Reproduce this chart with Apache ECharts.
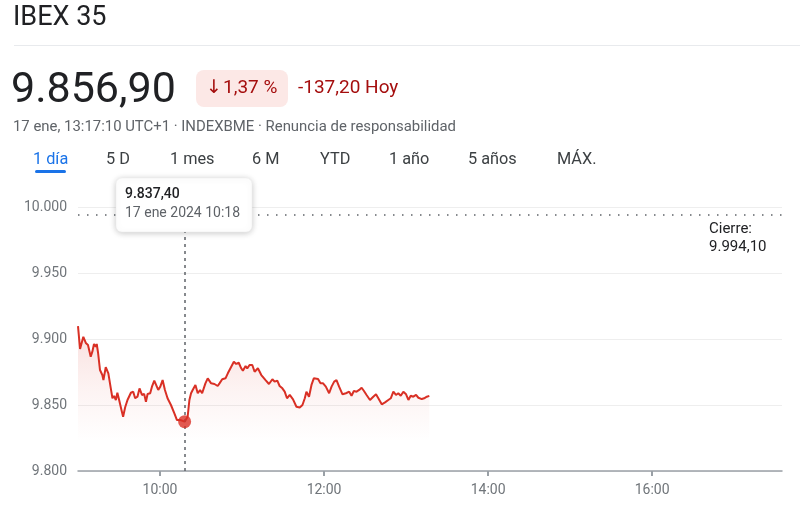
<!DOCTYPE html>
<html>
<head>
<meta charset="utf-8">
<script src="https://cdn.jsdelivr.net/npm/echarts@6/dist/echarts.min.js"></script>
<style>
  html, body { margin: 0; padding: 0; background: #ffffff; }
  #chart { width: 800px; height: 514px; }
</style>
</head>
<body>
<div id="chart"></div>
<script>
// ---- Data ----
const openMinute = 540;            // 9:00 in minutes since midnight
const closeMinute = 1055;          // 17:35
const xTickMinutes = [600, 720, 840, 960];   // 10:00, 12:00, 14:00, 16:00
const yTicks = [9800, 9850, 9900, 9950, 10000];

// minutes after 9:00
const minutesAfterOpen = [
  0, 1.5, 3.9, 5.7, 7.3, 9.3, 10.5, 11.7, 13.0, 13.7, 14.7, 16.1, 17.8, 18.6, 20.3, 22.2,
  24.0, 25.2, 26.4, 27.7, 28.8, 30.1, 31.8, 33.0, 34.5, 36.2, 38.7, 40.4, 41.8, 43.5, 45.0,
  46.8, 48.4, 49.7, 50.9, 52.8, 54.1, 55.8, 57.0, 58.7, 60.2, 61.9, 63.6, 65.5, 68.0, 70.5,
  72.4, 74.9, 78.0, 80.2, 81.5, 82.7, 83.9, 85.9, 87.6, 89.3, 90.8, 93.2, 94.9, 97.4, 99.8,
  102.2, 103.5, 105.5, 107.9, 109.6, 112.1, 114.0, 115.7, 117.6, 119.4, 120.6, 122.6, 123.8,
  125.5, 127.5, 129.2, 131.6, 134.1, 137.2, 139.7, 142.2, 143.8, 145.8, 147.5, 149.5, 151.2,
  152.9, 154.9, 157.3, 159.8, 162.2, 164.2, 165.9, 167.1, 169.0, 170.8, 172.5, 173.9, 175.6,
  177.4, 179.3, 181.3, 183.7, 185.5, 187.4, 189.1, 191.0, 193.5, 196.0, 198.4, 200.1, 201.8,
  203.8, 205.7, 207.5, 209.2, 211.1, 213.6, 216.0, 218.0, 219.7, 222.2, 224.6, 227.0, 228.8,
  230.7, 232.6, 234.3, 236.1, 238.0, 240.0, 241.7, 243.4, 245.3, 247.3, 249.0, 251.5, 253.2,
  255.2, 257.0
];
const prices = [
  9909.8, 9892.4, 9901.7, 9897.0, 9895.5, 9886.6, 9890.4, 9896.2, 9894.2, 9896.2, 9889.4, 9876.5, 9872.7, 9868.9, 9878.6, 9874.0,
  9862.6, 9855.1, 9856.8, 9853.8, 9859.3, 9853.8, 9846.2, 9841.1, 9848.3, 9853.8, 9859.3, 9860.1, 9855.1, 9856.3, 9862.6,
  9857.6, 9858.3, 9852.5, 9858.3, 9858.9, 9863.9, 9868.4, 9868.9, 9861.4, 9863.9, 9868.9, 9861.4, 9855.1, 9850.0, 9843.7,
  9838.6, 9838.6, 9837.4, 9841.1, 9853.8, 9858.9, 9861.4, 9865.2, 9858.9, 9861.4, 9858.9, 9866.4, 9870.2, 9866.4, 9865.9,
  9864.4, 9866.4, 9869.5, 9870.2, 9874.0, 9879.0, 9882.8, 9881.1, 9882.0, 9877.8, 9876.0, 9879.5, 9877.8,
  9880.3, 9880.3, 9875.2, 9877.8, 9872.7, 9868.9, 9865.9, 9869.5, 9867.7, 9868.4, 9864.4, 9862.6, 9860.1,
  9855.1, 9857.6, 9854.3, 9848.7, 9848.1, 9850.0, 9855.1, 9860.1, 9856.3, 9865.2, 9870.2, 9868.9, 9869.7,
  9866.4, 9866.4, 9863.9, 9858.9, 9863.9, 9867.7, 9868.9, 9863.9, 9858.1, 9858.9, 9860.1, 9857.0, 9860.6,
  9860.1, 9861.4, 9863.1, 9860.6, 9857.6, 9853.8, 9856.3, 9858.1, 9855.1, 9850.5, 9852.0, 9853.8, 9855.1,
  9860.1, 9857.6, 9858.9, 9857.0, 9860.1, 9858.1, 9853.8, 9857.0, 9856.3, 9857.6, 9855.5, 9854.5, 9855.1,
  9856.3, 9856.9
];
const previousClose = 9994.1;
const hoverMinute = 618;           // 10:18
const hoverPrice = 9837.4;

// ---- Texts ----
const titleText = 'IBEX 35';
const priceText = '9.856,90';
const arrowText = '↓';
const pctText = '1,37 %';
const changeText = '-137,20 Hoy';
const subtitleText = '17 ene, 13:17:10 UTC+1 · INDEXBME · Renuncia de responsabilidad';
const tabLabels = ['1 día', '5 D', '1 mes', '6 M', 'YTD', '1 año', '5 años', 'MÁX.'];
const tooltipValueText = '9.837,40';
const tooltipDateText = '17 ene 2024 10:18';
const closeLabelLines = ['Cierre:', '9.994,10'];

// ---- helpers ----
function fmtThousands(v) {
  const s = String(Math.round(v));
  return s.replace(/\B(?=(\d{3})+(?!\d))/g, '.');
}
function fmtTime(m) {
  const h = Math.floor(m / 60), mm = Math.round(m % 60);
  return (h < 10 ? '0' : '') + h + ':' + (mm < 10 ? '0' : '') + mm;
}

const FONT = 'Roboto, Arial, sans-serif';
const seriesData = minutesAfterOpen.map((m, i) => [openMinute + m, prices[i]]);

const tabX = [33, 106, 170, 252, 320, 389, 468, 557];
const graphics = [
  { type: 'text', left: 13, top: 5, style: { text: titleText, font: '27px ' + FONT, fill: '#202124' } },
  { type: 'rect', shape: { x: 14, y: 45, width: 786, height: 1 }, style: { fill: '#e8eaed' } },
  { type: 'text', left: 11, top: 70, style: { text: priceText, font: '43px ' + FONT, fill: '#202124' } },
  { type: 'rect', shape: { x: 196, y: 70, width: 92, height: 37, r: 8 }, style: { fill: '#fce8e6' } },
  { type: 'text', left: 206, top: 79, style: { text: arrowText, font: '19px DejaVu Sans, sans-serif', fill: '#a50e0e' } },
  { type: 'text', left: 223, top: 79, style: { text: pctText, font: '19px ' + FONT, fill: '#a50e0e' } },
  { type: 'text', left: 298, top: 79, style: { text: changeText, font: '19px ' + FONT, fill: '#a50e0e' } },
  { type: 'text', left: 13, top: 120, style: { text: subtitleText, font: '14.9px ' + FONT, fill: '#5f6368' } },
  { type: 'rect', shape: { x: 35, y: 170, width: 31, height: 3, r: 1.5 }, style: { fill: '#1a73e8' } },
  // tooltip box
  { type: 'rect', z: 100, shape: { x: 116, y: 178, width: 136, height: 54, r: 6 },
    style: { fill: '#ffffff', stroke: '#eeeeee', lineWidth: 0.5, shadowBlur: 6, shadowColor: 'rgba(0,0,0,0.22)', shadowOffsetY: 1 } },
  { type: 'text', z: 101, left: 125, top: 187, style: { text: tooltipValueText, font: '500 14px ' + FONT, fill: '#202124' } },
  { type: 'text', z: 101, left: 125, top: 206, style: { text: tooltipDateText, font: '14px ' + FONT, fill: '#5f6368' } },
  // close label
  { type: 'text', left: 709, top: 220, style: { text: closeLabelLines.join('\n'), font: '15px ' + FONT, fill: '#202124', lineHeight: 18 } }
];
tabLabels.forEach((t, i) => {
  graphics.push({ type: 'text', left: tabX[i], top: 152,
    style: { text: t, font: '16.3px ' + FONT, fill: i === 0 ? '#1a73e8' : '#3c4043' } });
});

const chart = echarts.init(document.getElementById('chart'), null, { renderer: 'canvas' });
chart.setOption({
  animation: false,
  backgroundColor: '#ffffff',
  grid: { left: 78, right: 18, top: 207, bottom: 43 },
  xAxis: {
    type: 'value', min: openMinute, max: closeMinute,
    axisLine: { show: true, lineStyle: { color: '#9aa0a6', width: 1.5 } },
    axisTick: { show: true, customValues: xTickMinutes, length: 5, lineStyle: { color: '#9aa0a6', width: 2 } },
    axisLabel: { customValues: xTickMinutes, formatter: fmtTime, color: '#70757a', fontSize: 14, fontFamily: FONT, margin: 12 },
    splitLine: { show: false }
  },
  yAxis: {
    type: 'value', min: yTicks[0], max: yTicks[yTicks.length - 1], interval: 50,
    axisLine: { show: false }, axisTick: { show: false },
    axisLabel: { formatter: fmtThousands, color: '#70757a', fontSize: 14, fontFamily: FONT, margin: 11 },
    splitLine: { lineStyle: { color: '#eeeeee', width: 1 } }
  },
  series: [
    {
      type: 'line', data: seriesData, showSymbol: false, symbol: 'none',
      lineStyle: { color: '#d93025', width: 2 },
      areaStyle: {
        color: new echarts.graphic.LinearGradient(0, 0, 0, 1, [
          { offset: 0, color: 'rgba(217,48,37,0.22)' },
          { offset: 0.45, color: 'rgba(217,48,37,0.08)' },
          { offset: 0.8, color: 'rgba(217,48,37,0.0)' }
        ])
      },
      markLine: {
        silent: true, symbol: 'none', label: { show: false },
        data: [
          { yAxis: previousClose, lineStyle: { color: '#5f6368', width: 1.5, type: [1.5, 7.5] } },
          { xAxis: hoverMinute, lineStyle: { color: '#5f6368', width: 1.5, type: [3, 4] } }
        ]
      }
    },
    {
      type: 'scatter', data: [[hoverMinute, hoverPrice]], symbolSize: 13, z: 5,
      itemStyle: { color: '#d93025' }
    }
  ],
  graphic: graphics
});
</script>
</body>
</html>
